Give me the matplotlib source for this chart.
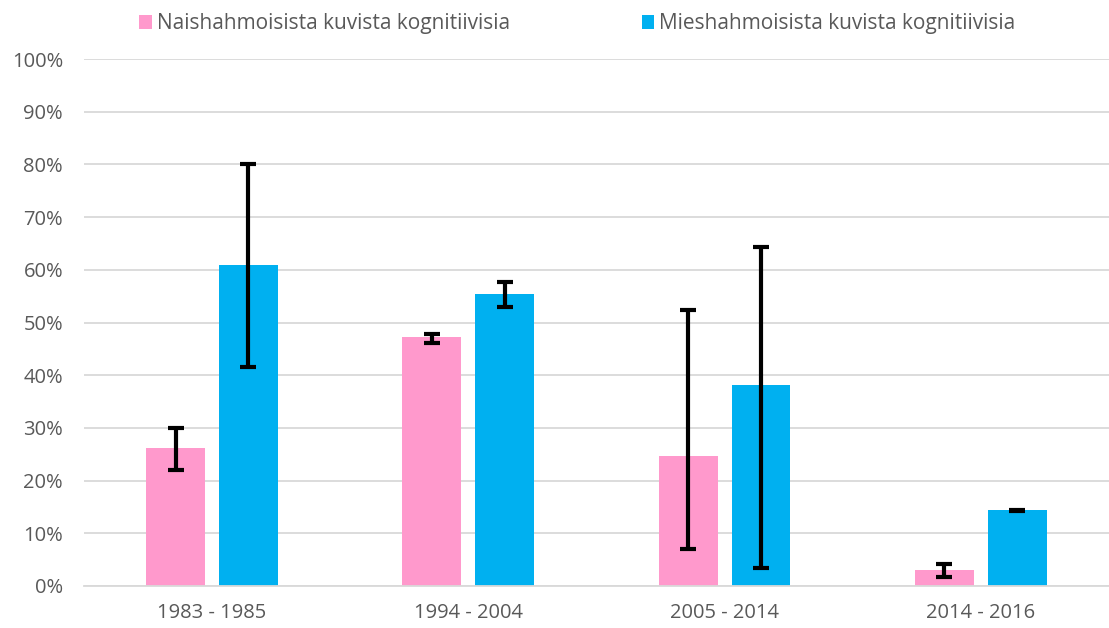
import matplotlib.pyplot as plt
import numpy as np

# data (percent)
categories = ['1983 - 1985', '1994 - 2004', '2005 - 2014', '2014 - 2016']
women = [26.2, 47.2, 24.7, 3.0]
women_lo = [22.1, 46.2, 7.0, 1.7]
women_hi = [30.0, 47.9, 52.4, 4.2]
men = [61.0, 55.4, 38.1, 14.4]
men_lo = [41.6, 53.0, 3.5, 14.3]
men_hi = [80.0, 57.6, 64.3, 14.5]
labels = ['Naishahmoisista kuvista kognitiivisia', 'Mieshahmoisista kuvista kognitiivisia']

pink = '#FF99CC'
blue = '#00B0F0'
text_col = '#595959'

plt.rcParams['font.family'] = ['Open Sans', 'DejaVu Sans']

fig = plt.figure(figsize=(11.09, 6.28), dpi=100)
ax = fig.add_axes([0.0757, 0.0669, 0.9243, 0.8391])

x = np.arange(len(categories))
w = 0.23
off = 0.142

def err(vals, lo, hi):
    vals = np.array(vals)
    return [vals - np.array(lo), np.array(hi) - vals]

ax.bar(x - off, women, w, color=pink, zorder=2, label=labels[0])
ax.bar(x + off, men, w, color=blue, zorder=2, label=labels[1])
ekw = dict(fmt='none', ecolor='black', elinewidth=3, capsize=6, capthick=3, zorder=3)
ax.errorbar(x - off, women, yerr=err(women, women_lo, women_hi), **ekw)
ax.errorbar(x + off, men, yerr=err(men, men_lo, men_hi), **ekw)

ax.set_xlim(-0.5, len(categories) - 0.5)
ax.set_ylim(0, 100)
ax.set_yticks(np.arange(0, 101, 10))
ax.set_yticklabels([f'{v}%' for v in range(0, 101, 10)])
ax.set_xticks(x)
ax.set_xticklabels(categories)
ax.yaxis.grid(True, color='#D9D9D9', linewidth=1.3, zorder=0)
ax.set_axisbelow(True)
for s in ['top', 'right', 'left']:
    ax.spines[s].set_visible(False)
ax.spines['bottom'].set_color('#D9D9D9')
ax.spines['bottom'].set_linewidth(1.3)
ax.tick_params(axis='both', length=0, labelsize=14.5, colors=text_col)
ax.tick_params(axis='y', pad=15)
ax.tick_params(axis='x', pad=12)

leg = fig.legend(loc='center', bbox_to_anchor=(0.5207, 0.962), ncol=2, frameon=False,
                 fontsize=15, handlelength=0.6, handleheight=0.6, columnspacing=6.3,
                 handletextpad=0.25, borderaxespad=0)
for t in leg.get_texts():
    t.set_color(text_col)

fig.savefig('out.png', dpi=100)
